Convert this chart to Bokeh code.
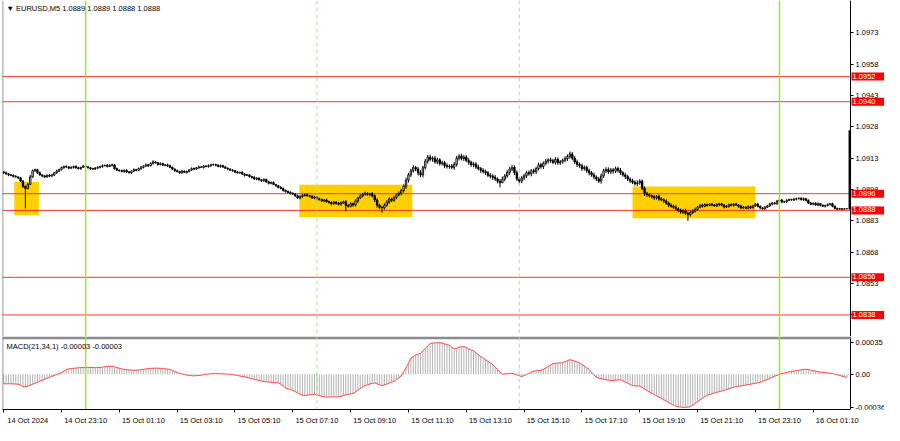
from bokeh.plotting import figure
from bokeh.models import (Range1d, FixedTicker, Span, BoxAnnotation, Label,
                          ColumnDataSource, PrintfTickFormatter)
from bokeh.layouts import column
from bokeh.embed import file_html
from bokeh.resources import INLINE

# ---------------- data ----------------
symbol_title = "\u25BC EURUSD,M5  1.0889 1.0889 1.0888 1.0888"
macd_title = "MACD(21,34,1) -0.00003 -0.00003"

open0 = 1.09064
closes = [
    # 0-23
    1.09060, 1.09055, 1.09050, 1.09048, 1.09042, 1.09040, 1.09036, 1.09020, 1.08995, 1.08985, 1.09005, 1.09040,
    1.09070, 1.09075, 1.09060, 1.09050, 1.09045, 1.09040, 1.09048, 1.09044, 1.09050, 1.09060, 1.09068, 1.09075,
    # 24-40
    1.09085, 1.09090, 1.09088, 1.09082, 1.09086, 1.09090, 1.09084, 1.09080, 1.09086, 1.09092, 1.09088, 1.09084,
    1.09080, 1.09078, 1.09082, 1.09086, 1.09090,
    # 41-56
    1.09094, 1.09096, 1.09090, 1.09096, 1.09098, 1.09080, 1.09072, 1.09070, 1.09066, 1.09072, 1.09064, 1.09060,
    1.09068, 1.09075, 1.09072, 1.09080,
    # 57-69
    1.09086, 1.09092, 1.09098, 1.09094, 1.09104, 1.09112, 1.09108, 1.09100, 1.09104, 1.09096, 1.09098, 1.09094, 1.09086,
    # 70-78
    1.09078, 1.09070, 1.09066, 1.09060, 1.09068, 1.09062, 1.09066, 1.09074, 1.09080,
    # 79-94
    1.09078, 1.09084, 1.09088, 1.09086, 1.09092, 1.09090, 1.09094, 1.09098, 1.09100, 1.09096, 1.09090, 1.09094,
    1.09088, 1.09082, 1.09078, 1.09072,
    # 95-117
    1.09070, 1.09064, 1.09060, 1.09062, 1.09054, 1.09048, 1.09050, 1.09042, 1.09038, 1.09030, 1.09034, 1.09026,
    1.09022, 1.09028, 1.09016, 1.09010, 1.09014, 1.09004, 1.08998, 1.08990, 1.08985, 1.08976, 1.08970,
    # 118-134
    1.08966, 1.08962, 1.08958, 1.08950, 1.08940, 1.08946, 1.08952, 1.08955, 1.08950, 1.08948, 1.08940, 1.08944,
    1.08936, 1.08932, 1.08926, 1.08930, 1.08922,
    # 135-145
    1.08918, 1.08912, 1.08920, 1.08914, 1.08910, 1.08916, 1.08922, 1.08904, 1.08900, 1.08912, 1.08906,
    # 146-158
    1.08925, 1.08940, 1.08950, 1.08958, 1.08962, 1.08956, 1.08960, 1.08950, 1.08930, 1.08905, 1.08895, 1.08892, 1.08905,
    # 159-177
    1.08920, 1.08935, 1.08928, 1.08942, 1.08955, 1.08962, 1.08975, 1.08995, 1.09025, 1.09050, 1.09070, 1.09085,
    1.09078, 1.09060, 1.09050, 1.09085, 1.09115, 1.09135, 1.09125,
    # 178-190
    1.09130, 1.09112, 1.09122, 1.09104, 1.09108, 1.09094, 1.09090, 1.09092, 1.09086, 1.09100, 1.09130, 1.09140, 1.09128,
    # 191-206
    1.09135, 1.09120, 1.09110, 1.09098, 1.09102, 1.09088, 1.09080, 1.09072, 1.09066, 1.09060, 1.09048, 1.09044,
    1.09038, 1.09030, 1.09020, 1.09012,
    # 207-215
    1.09030, 1.09045, 1.09062, 1.09078, 1.09086, 1.09060, 1.09030, 1.09020, 1.09035,
    # 216-230
    1.09045, 1.09060, 1.09055, 1.09070, 1.09065, 1.09080, 1.09098, 1.09090, 1.09105, 1.09115, 1.09122, 1.09118,
    1.09110, 1.09124, 1.09108,
    # 231-247
    1.09112, 1.09120, 1.09128, 1.09138, 1.09150, 1.09130, 1.09112, 1.09100, 1.09094, 1.09080, 1.09086, 1.09070,
    1.09060, 1.09050, 1.09040, 1.09030, 1.09020,
    # 248-260
    1.09045, 1.09070, 1.09076, 1.09064, 1.09074, 1.09068, 1.09080, 1.09072, 1.09060, 1.09050, 1.09042, 1.09030, 1.09022,
    # 261-279
    1.09015, 1.09008, 1.09012, 1.09020, 1.08985, 1.08960, 1.08955, 1.08950, 1.08945, 1.08940, 1.08946, 1.08935,
    1.08930, 1.08925, 1.08915, 1.08905, 1.08900, 1.08895, 1.08888,
    # 280-288
    1.08880, 1.08872, 1.08878, 1.08866, 1.08860, 1.08870, 1.08876, 1.08885, 1.08895,
    # 289-312
    1.08905, 1.08900, 1.08908, 1.08904, 1.08910, 1.08906, 1.08902, 1.08908, 1.08912, 1.08905, 1.08896, 1.08900,
    1.08908, 1.08904, 1.08910, 1.08906, 1.08900, 1.08892, 1.08896, 1.08890, 1.08898, 1.08894, 1.08902, 1.08910,
    # 313-320
    1.08900, 1.08892, 1.08888, 1.08895, 1.08902, 1.08910, 1.08915, 1.08912,
    # 321-333
    1.08925, 1.08930, 1.08920, 1.08922, 1.08928, 1.08932, 1.08930, 1.08934, 1.08936, 1.08938, 1.08932, 1.08936, 1.08928,
    # 334-350
    1.08915, 1.08910, 1.08914, 1.08906, 1.08912, 1.08904, 1.08900, 1.08904, 1.08908, 1.08912, 1.08900, 1.08890,
    1.08886, 1.08888, 1.08886, 1.08888, 1.08888,
]
# upper / lower shadows beyond the body, in points (0.00001)
hi_wick = [
    4, 6, 3, 5, 4, 7, 3, 5, 6, 4, 8, 10, 6, 5, 4, 6, 3, 5, 4, 6, 5, 4, 7, 5,
    5, 4, 6, 3, 5, 4, 6, 5, 3, 6, 4, 5, 3, 4, 6, 5, 4, 6, 3, 5, 4, 6, 4, 5,
    4, 6, 3, 5, 4, 3, 6, 4, 5, 6, 4, 7, 5, 6, 8, 5, 4, 6, 5, 4, 6, 5, 4, 3,
    5, 4, 6, 3, 5, 4, 6, 5, 4, 6, 3, 5, 4, 6, 5, 4, 3, 5, 6, 4, 5, 3, 4, 6,
    4, 5, 3, 6, 4, 5, 3, 4, 6, 5, 4, 3, 5, 4, 6, 4, 5, 3, 4, 6, 5, 4, 5, 6,
    5, 4, 6, 5, 7, 5, 6, 4, 5, 6, 4, 5, 6, 4, 7, 5, 6, 4, 5, 7, 6, 5, 8, 6,
    7, 6, 8, 5, 7, 6, 8, 6, 5, 7, 6, 8, 7, 6, 9, 8, 7, 6, 8, 7, 9, 8, 10, 12,
    10, 9, 11, 8, 10, 12, 9, 11, 10, 12, 9, 11, 10, 8, 10, 9, 11, 8, 10, 12, 10, 9, 11, 10,
    9, 11, 8, 10, 9, 11, 8, 10, 9, 8, 10, 9, 11, 8, 10, 12, 9, 11, 10, 12, 9, 11, 10, 9,
    10, 9, 11, 8, 10, 9, 11, 10, 9, 11, 8, 10, 9, 11, 10, 9, 8, 11, 10, 12, 9, 10, 11, 9,
    10, 9, 8, 10, 9, 11, 8, 10, 12, 9, 11, 10, 9, 8, 10, 9, 11, 8, 10, 9, 8, 10, 9, 12,
    9, 8, 10, 9, 8, 7, 9, 8, 10, 7, 9, 8, 7, 9, 8, 10, 7, 9, 8, 10, 9, 8, 10, 9,
    6, 5, 7, 6, 5, 4, 6, 5, 7, 5, 4, 6, 5, 4, 6, 5, 7, 4, 6, 5, 4, 6, 5, 4,
    5, 6, 4, 5, 6, 5, 7, 6, 5, 4, 6, 5, 4, 6, 5, 4, 6, 5, 4, 5, 6, 4, 5, 6,
    4, 5, 6, 4, 5, 3, 6, 4, 5, 4, 3, 4, 3, 2, 1,
]
lo_wick = [
    5, 4, 6, 4, 5, 3, 6, 4, 8, 0, 6, 5, 4, 6, 5, 4, 6, 5, 3, 5, 4, 6, 5, 4,
    4, 6, 5, 4, 3, 6, 5, 4, 6, 3, 5, 4, 6, 5, 4, 3, 5, 6, 4, 5, 3, 6, 5, 4,
    5, 4, 6, 5, 3, 6, 4, 5, 4, 6, 5, 3, 6, 4, 5, 4, 6, 5, 3, 5, 6, 4, 5, 6,
    4, 6, 5, 3, 6, 4, 5, 6, 4, 5, 3, 6, 4, 5, 6, 3, 5, 4, 6, 5, 4, 6, 3, 5,
    6, 4, 5, 3, 6, 4, 5, 6, 4, 5, 3, 6, 5, 4, 6, 5, 3, 6, 5, 4, 6, 5, 4, 6,
    5, 6, 4, 7, 5, 6, 4, 7, 5, 6, 8, 5, 6, 7, 5, 6, 8, 5, 7, 6, 8, 5, 9, 7,
    6, 8, 7, 9, 6, 8, 7, 6, 9, 8, 10, 12, 9, 0, 8, 7, 9, 8, 7, 9, 8, 10, 9, 11,
    12, 10, 9, 11, 13, 10, 12, 9, 11, 10, 12, 9, 11, 10, 9, 12, 10, 11, 9, 12, 10, 11, 9, 12,
    10, 12, 9, 11, 10, 9, 12, 10, 11, 9, 10, 12, 9, 11, 10, 0, 11, 9, 12, 10, 11, 9, 12, 10,
    11, 10, 9, 12, 10, 11, 9, 10, 12, 9, 11, 10, 9, 12, 10, 11, 9, 10, 12, 11, 10, 9, 12, 10,
    11, 9, 10, 12, 9, 11, 10, 9, 12, 10, 11, 9, 10, 12, 9, 11, 10, 9, 12, 10, 11, 9, 10, 12,
    10, 9, 11, 10, 8, 9, 10, 8, 9, 7, 10, 8, 9, 7, 8, 10, 9, 8, 9, 7, 0, 9, 8, 7,
    6, 5, 7, 5, 6, 4, 7, 5, 6, 8, 5, 6, 4, 7, 5, 6, 4, 7, 5, 6, 4, 5, 7, 6,
    5, 6, 7, 5, 6, 4, 5, 6, 4, 5, 6, 5, 4, 6, 5, 4, 5, 6, 4, 5, 6, 5, 4, 5,
    5, 4, 6, 5, 4, 6, 5, 4, 5, 6, 4, 3, 2, 3, 1,
]
# bars with long lower shadows (bar index -> low)
long_lows = {9: 1.08889, 142: 1.08875, 157: 1.08868, 206: 1.08990, 284: 1.08830}
# tick spike drawn on the right edge
spike_bar = 351.2
spike_high = 1.09264
spike_low = 1.08884

# MACD main line in units of 1e-5 (signal period 1 -> same as histogram)
macd_e5 = [
    -10.6, -10.5, -10.4, -10.5, -10.6, -10.8, -11.0, -12.0,
    -13.5, -14.0, -13.2, -12.0, -11.0,
    -10.0, -8.8, -7.6, -6.5, -5.5, -4.5, -3.5,
    -2.4, -1.3, -0.3, 0.7, 2.0, 3.5, 5.3,
    5.8, 6.2, 6.5, 6.8, 7.0, 7.2, 7.4,
    7.5, 7.6, 7.5, 7.3, 7.2, 7.3, 7.4,
    7.8, 8.2, 8.5, 8.7, 8.8,
    8.2, 7.3, 6.5, 5.8, 5.3,
    5.0, 4.7, 4.5, 4.4, 4.5, 4.6,
    5.0, 5.4, 5.8, 6.1, 6.4, 6.6, 6.7,
    6.6, 6.4, 6.2, 5.9, 5.6, 5.3,
    4.2, 3.0, 2.0, 1.0,
    0.3, -0.4, -0.9, -1.3, -1.6, -1.8,
    -1.6, -1.3, -1.0, -0.6, -0.2, 0.2, 0.5, 0.7,
    0.7, 0.6, 0.5, 0.4, 0.3, 0.1, 0.0,
    -0.4, -0.9, -1.4, -2.0, -2.5, -3.0, -3.5,
    -4.2, -4.9, -5.5, -6.2, -6.9, -7.5, -8.0,
    -8.3, -8.6, -8.9, -9.1, -9.3, -9.5,
    -11.0, -13.0, -15.0, -16.0, -17.0, -17.7,
    -19.0, -20.5, -22.0, -23.0,
    -23.2, -23.0, -22.6, -22.3, -22.0,
    -22.7, -23.5, -24.2, -24.8,
    -25.0, -25.0, -24.9, -24.8, -24.8, -24.8,
    -24.5, -23.0, -22.5, -22.0, -21.5, -21.0,
    -19.5, -17.5, -15.5, -13.8, -12.4,
    -11.5, -10.6, -10.0, -9.5,
    -10.5, -11.5, -12.4,
    -11.8, -10.8, -9.8, -8.8, -7.8,
    -5.8, -3.8, -1.8, 2.5, 7.0,
    12.0, 17.6,
    19.5, 21.0, 22.0, 23.0,
    25.5, 28.5, 31.0, 33.5,
    34.0, 34.4, 34.6, 34.6,
    34.0, 33.2, 32.5, 31.8,
    29.5, 27.6,
    28.5, 29.5, 30.2, 30.3,
    29.2, 27.8, 26.6, 25.5,
    23.5, 21.5, 19.4,
    17.5, 15.8, 14.0, 12.3, 10.6,
    7.8, 5.0, 2.5, 0.0,
    0.3, 0.6, 0.8, 1.0,
    0.2, -0.8, -1.8, -2.5,
    -1.5, -0.3, 1.0, 2.3, 3.5,
    3.7, 4.0, 4.2,
    5.5, 7.0, 8.5, 10.2, 11.7,
    12.0, 12.3, 12.5, 12.7,
    13.8, 14.9, 15.9,
    15.2, 14.4, 13.4, 12.4,
    10.6, 8.9, 7.1, 5.3,
    2.2, -0.7, -3.5,
    -4.2, -4.9, -5.5, -6.0, -6.5, -7.0,
    -6.8, -6.5, -6.2, -6.0,
    -7.3, -8.6, -9.9, -11.2, -12.4,
    -12.6, -12.8, -13.0,
    -14.5, -16.1, -17.8, -19.5,
    -20.9, -22.3, -23.7, -25.1, -26.5,
    -28.0, -29.5, -31.1, -32.6,
    -33.8, -35.0, -35.6, -36.0, -36.2, -36.2, -36.0, -35.6,
    -34.0, -32.0, -30.0,
    -28.2, -26.5, -24.7, -23.0,
    -22.2, -21.4, -20.6, -19.8, -19.1, -18.4,
    -17.6, -16.8, -15.9, -15.0, -14.2,
    -13.7, -13.3, -12.8, -12.3, -11.9, -11.4,
    -10.9, -10.4, -9.9, -9.4, -8.9,
    -7.8, -6.8, -5.7, -4.6,
    -3.4, -2.3, -1.1, 0.0,
    0.7, 1.4, 2.0, 2.7,
    3.1, 3.5, 3.9, 4.3, 4.8, 5.2, 5.6,
    5.0, 4.5, 3.9, 3.3, 2.7,
    2.4, 2.1, 1.8, 1.4, 1.1, 0.8,
    0.1, -0.6, -1.4, -2.1, -2.8, -3.5,
]

levels = [1.0952, 1.0940, 1.0896, 1.0888, 1.0856, 1.0838]
level_labels = ["1.0952", "1.0940", "1.0896", "1.0888", "1.0856", "1.0838"]

day_break_bars = [34, 322]       # 15 Oct 00:00, 16 Oct 00:00
session_bars = [130, 214]        # 15 Oct 08:00, 15 Oct 15:00

zone_left = [4.4, 122.7, 261.0]
zone_right = [14.6, 169.6, 312.0]
zone_top = [1.09016, 1.09003, 1.08994]
zone_bottom = [1.08857, 1.08848, 1.08843]

time_tick_bars = [0, 24, 48, 72, 96, 120, 144, 168, 192, 216, 240, 264, 288, 312, 336]
time_tick_labels = ["14 Oct 2024", "14 Oct 23:10", "15 Oct 01:10", "15 Oct 03:10", "15 Oct 05:10",
                    "15 Oct 07:10", "15 Oct 09:10", "15 Oct 11:10", "15 Oct 13:10", "15 Oct 15:10",
                    "15 Oct 17:10", "15 Oct 19:10", "15 Oct 21:10", "15 Oct 23:10", "16 Oct 01:10"]

price_ticks = [1.0838, 1.0853, 1.0868, 1.0883, 1.0898, 1.0913, 1.0928, 1.0943, 1.0958, 1.0973]
macd_ticks = [0.00035, 0.0, -0.00036]
macd_tick_labels = ["0.00035", "0.00", "-0.00036"]

# ---------------- layout constants ----------------
FONT = "Liberation Sans"
FS = "7.5px"
FRAME_W = 882          # frame spans the whole width; the price scale sits inside it
X0, X1 = -0.5, 365.6   # bar units (2.41 px per bar)
LABEL_SHIFT = 10       # bars: MT4 draws time labels to the right of their tick

n = len(closes)
edge = n + 0.5         # right edge of the chart area (price scale position)
bars = list(range(n))
opens = [open0] + closes[:-1]
tops = [max(o, c) for o, c in zip(opens, closes)]
bots = [min(o, c) for o, c in zip(opens, closes)]
highs = [t + w * 1e-5 for t, w in zip(tops, hi_wick)]
lows = [long_lows.get(i, b - w * 1e-5) for i, (b, w) in enumerate(zip(bots, lo_wick))]
fills = ["white" if c >= o else "black" for o, c in zip(opens, closes)]
src = ColumnDataSource(dict(x=bars, top=tops, bottom=bots, high=highs, low=lows, fill=fills))

xr = Range1d(X0, X1)


def style_price_axis(ax):
    ax.fixed_location = edge
    ax.major_tick_out = 3
    ax.major_tick_in = 0
    ax.minor_tick_out = 0
    ax.minor_tick_in = 0
    ax.major_label_standoff = 2
    ax.axis_line_color = "black"
    ax.major_tick_line_color = "black"
    ax.major_label_text_font = FONT
    ax.major_label_text_font_size = FS
    ax.major_label_text_color = "black"


# ---------------- main price panel ----------------
p = figure(frame_width=FRAME_W, frame_height=336, x_range=xr, y_range=Range1d(1.08277, 1.09884),
           x_axis_location=None, y_axis_location="right", toolbar_location=None, output_backend="svg",
           min_border_left=2, min_border_right=0, min_border_top=0, min_border_bottom=0,
           background_fill_color="white", border_fill_color="white", outline_line_color=None)
p.grid.visible = False
ya = p.yaxis[0]
ya.ticker = FixedTicker(ticks=price_ticks)
ya.formatter = PrintfTickFormatter(format="%.4f")
style_price_axis(ya)

p.quad(left=zone_left, right=zone_right, top=zone_top, bottom=zone_bottom,
       fill_color="#FFD000", line_color=None)

p.segment(x0=[X0] * len(levels), y0=levels, x1=[edge] * len(levels), y1=levels,
          line_color="#ff2020", line_width=1, line_alpha=0.9)
p.add_layout(Span(location=X0 + 0.1, dimension="height", line_color="#555555", line_width=1))
for b in day_break_bars:
    p.add_layout(Span(location=b, dimension="height", line_color="#7CFC00", line_width=1.4))
for b in session_bars:
    p.add_layout(Span(location=b, dimension="height", line_color="#b2dc96", line_width=1, line_dash="4 3"))

p.segment(x0="x", y0="high", x1="x", y1="low", source=src, line_color="black", line_width=1)
p.vbar(x="x", width=0.6, top="top", bottom="bottom", source=src,
       fill_color="fill", line_color="black", line_width=0.9)
p.segment(x0=[spike_bar], y0=[spike_high], x1=[spike_bar], y1=[spike_low], line_color="black", line_width=2.5)

for lv, txt in zip(levels, level_labels):
    p.add_layout(Label(x=edge, y=lv, x_offset=1, text=txt,
                       text_font=FONT, text_font_size=FS, text_color="white", text_align="left",
                       text_baseline="middle", background_fill_color="#ff0000", padding=(1, 11, 1, 2)))

p.add_layout(Label(x=X0, y=1.09884, x_offset=4, y_offset=-3, text=symbol_title, text_font=FONT,
                   text_font_size=FS, text_color="black", text_align="left", text_baseline="top"))

# ---------------- MACD panel ----------------
m = figure(frame_width=FRAME_W, frame_height=73, x_range=xr, y_range=Range1d(-38.6e-5, 41.3e-5),
           x_axis_location="below", y_axis_location="right", toolbar_location=None, output_backend="svg",
           min_border_left=2, min_border_right=0, min_border_top=0, min_border_bottom=16,
           background_fill_color="white", border_fill_color="white", outline_line_color=None)
m.grid.visible = False

macd_vals = [v * 1e-5 for v in macd_e5]
mbars = list(range(len(macd_vals)))
m.vbar(x=mbars, top=macd_vals, bottom=0, width=0.42, fill_color="#b4b4b4", line_color=None)
m.line(x=mbars, y=macd_vals, line_color="#ff4848", line_width=1)

m.add_layout(BoxAnnotation(bottom=38.2e-5, left=X0, right=edge, fill_color="#8c8c8c", fill_alpha=1,
                           line_color=None))
m.add_layout(Span(location=X0 + 0.1, dimension="height", line_color="#555555", line_width=1))
for b in day_break_bars:
    m.add_layout(Span(location=b, dimension="height", line_color="#7CFC00", line_width=1.4))
for b in session_bars:
    m.add_layout(Span(location=b, dimension="height", line_color="#b2dc96", line_width=1, line_dash="4 3"))

m.add_layout(Label(x=X0, y=38.2e-5, x_offset=4, y_offset=-3, text=macd_title, text_font=FONT,
                   text_font_size=FS, text_color="black", text_align="left", text_baseline="top"))

my = m.yaxis[0]
my.ticker = FixedTicker(ticks=macd_ticks)
my.major_label_overrides = {t: s for t, s in zip(macd_ticks, macd_tick_labels)}
style_price_axis(my)

label_pos = [b + LABEL_SHIFT for b in time_tick_bars]
mx = m.xaxis[0]
mx.ticker = FixedTicker(ticks=label_pos, minor_ticks=time_tick_bars)
mx.major_label_overrides = {pos: lab for pos, lab in zip(label_pos, time_tick_labels)}
mx.bounds = (X0, edge)
mx.major_tick_out = 0
mx.major_tick_in = 0
mx.minor_tick_out = 3
mx.minor_tick_in = 0
mx.minor_tick_line_color = "black"
mx.major_label_standoff = 3
mx.axis_line_color = "black"
mx.major_label_text_font = FONT
mx.major_label_text_font_size = FS
mx.major_label_text_color = "black"

layout = column(p, m, spacing=0)
open("out.html", "w").write(file_html(layout, INLINE))
